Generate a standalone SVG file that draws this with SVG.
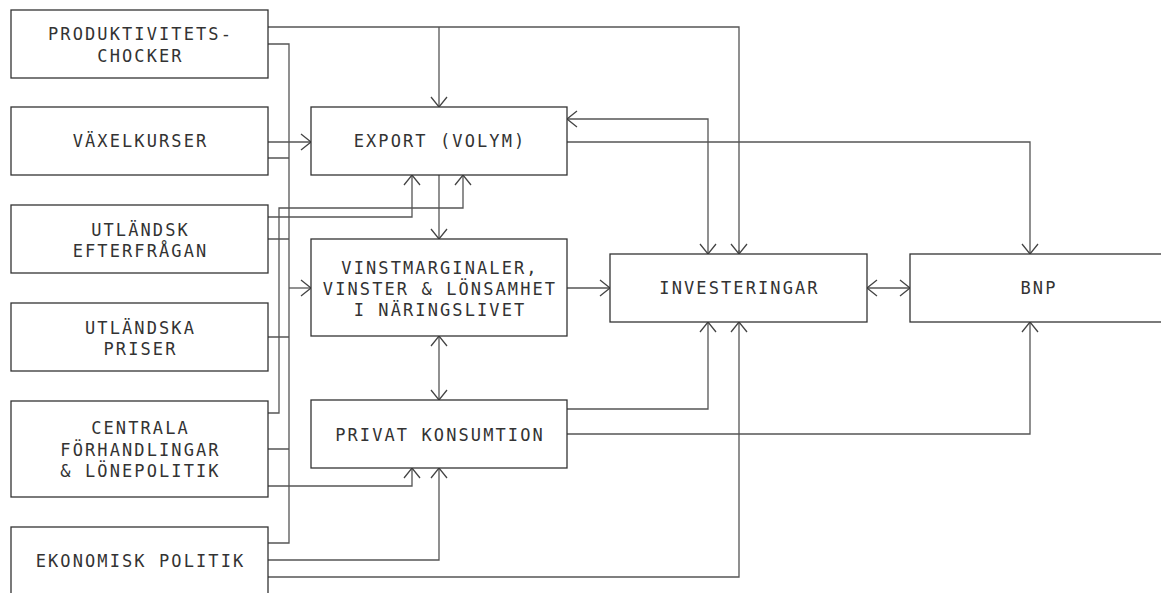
<svg xmlns="http://www.w3.org/2000/svg" width="1161" height="593" viewBox="0 0 1161 593">
<style>
.box{fill:#fff;stroke:#333;stroke-width:1.3}
.t{font-family:"DejaVu Sans Mono","Liberation Mono",monospace;font-size:17px;letter-spacing:2.1px;fill:#333;text-anchor:middle}
.c{fill:none;stroke:#555;stroke-width:1.3}
.a{marker-end:url(#ah)}
.b{marker-start:url(#ah);marker-end:url(#ah)}
</style>
<defs>
<marker id="ah" markerUnits="userSpaceOnUse" markerWidth="24" markerHeight="24" refX="0" refY="0" viewBox="-12 -12 24 24" orient="auto-start-reverse">
<path d="M-10,-8 L0,0 L-10,8" fill="none" stroke="#444" stroke-width="1.3"/>
</marker>
</defs>
<rect width="1161" height="593" fill="#fff"/>
<g id="connectors">
<path class="c" d="M268,27 H739 V254"/>
<path class="c a" d="M739,250 V254"/>
<path class="c a" d="M439,27 V107"/>
<path class="c" d="M268,44 H289 V543 H268"/>
<path class="c" d="M268,158 H289 M268,239 H289 M268,337 H289 M268,449 H289"/>
<path class="c a" d="M289,288 H311"/>
<path class="c a" d="M268,142 H311"/>
<path class="c a" d="M268,217 H412 V175"/>
<path class="c a" d="M268,413 H279 V208 H463 V175"/>
<path class="c a" d="M268,486 H412 V468"/>
<path class="c a" d="M268,560 H439 V468"/>
<path class="c a" d="M268,577 H739 V322"/>
<path class="c a" d="M439,175 V239"/>
<path class="c b" d="M439,336 V400"/>
<path class="c a" d="M567,288 H610"/>
<path class="c b" d="M867,288 H910"/>
<path class="c b" d="M567,119 H708 V254"/>
<path class="c a" d="M567,142 H1030 V254"/>
<path class="c a" d="M567,409 H708 V322"/>
<path class="c a" d="M567,434 H1030 V322"/>
</g>
<g id="produktivitetschocker">
<rect class="box" x="11" y="10" width="257" height="68"/>
<text class="t" x="140.5" y="40">PRODUKTIVITETS-</text>
<text class="t" x="140.5" y="61.5">CHOCKER</text>
</g>
<g id="vaxelkurser">
<rect class="box" x="11" y="107" width="257" height="68"/>
<text class="t" x="140.5" y="147">VÄXELKURSER</text>
</g>
<g id="utlandsk-efterfragan">
<rect class="box" x="11" y="205" width="257" height="68"/>
<text class="t" x="140.5" y="236">UTLÄNDSK</text>
<text class="t" x="140.5" y="257">EFTERFRÅGAN</text>
</g>
<g id="utlandska-priser">
<rect class="box" x="11" y="303" width="257" height="68"/>
<text class="t" x="140.5" y="333.5">UTLÄNDSKA</text>
<text class="t" x="140.5" y="354.5">PRISER</text>
</g>
<g id="centrala-forhandlingar">
<rect class="box" x="11" y="401" width="257" height="96"/>
<text class="t" x="140.5" y="434">CENTRALA</text>
<text class="t" x="140.5" y="455.5">FÖRHANDLINGAR</text>
<text class="t" x="140.5" y="477">&amp; LÖNEPOLITIK</text>
</g>
<g id="ekonomisk-politik">
<rect class="box" x="11" y="527" width="257" height="80"/>
<text class="t" x="140.5" y="567">EKONOMISK POLITIK</text>
</g>
<g id="export">
<rect class="box" x="311" y="107" width="256" height="68"/>
<text class="t" x="440" y="147">EXPORT (VOLYM)</text>
</g>
<g id="vinstmarginaler">
<rect class="box" x="311" y="239" width="256" height="97"/>
<text class="t" x="440" y="273.5">VINSTMARGINALER,</text>
<text class="t" x="440" y="294.5">VINSTER &amp; LÖNSAMHET</text>
<text class="t" x="440" y="316">I NÄRINGSLIVET</text>
</g>
<g id="privat-konsumtion">
<rect class="box" x="311" y="400" width="256" height="68"/>
<text class="t" x="440" y="441">PRIVAT KONSUMTION</text>
</g>
<g id="investeringar">
<rect class="box" x="610" y="254" width="257" height="68"/>
<text class="t" x="739.5" y="294">INVESTERINGAR</text>
</g>
<g id="bnp">
<rect class="box" x="910" y="254" width="257" height="68"/>
<text class="t" x="1039" y="294">BNP</text>
</g>
</svg>
